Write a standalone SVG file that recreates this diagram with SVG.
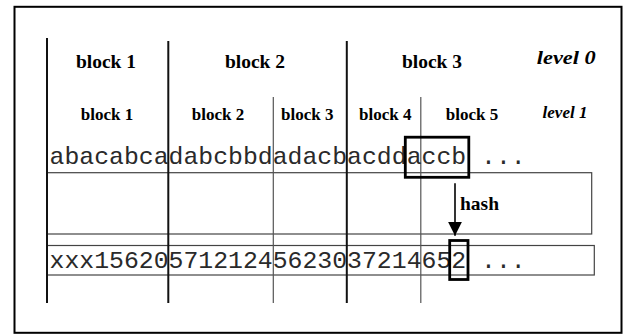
<svg xmlns="http://www.w3.org/2000/svg" width="623" height="335" viewBox="0 0 623 335">
<style>
.frame{fill:none;stroke:#000;stroke-width:2}
.thick{stroke:#111;stroke-width:2}
.thin{stroke:#555;stroke-width:1.2}
.row{fill:none;stroke:#444;stroke-width:1.2}
.hl{fill:none;stroke:#000;stroke-width:2.8}
.b0{font-family:"Liberation Serif",serif;font-weight:bold;font-size:19.5px;text-anchor:middle;fill:#000}
.b1{font-family:"Liberation Serif",serif;font-weight:bold;font-size:17px;text-anchor:middle;fill:#000}
.lv{font-family:"Liberation Serif",serif;font-weight:bold;font-style:italic;text-anchor:middle;fill:#000}
.mono{font-family:"Liberation Mono","Courier New",monospace;font-size:24.8px;fill:#2a2a2a}
</style>
<defs>
<marker id="ah" markerWidth="14" markerHeight="14" refX="14" refY="7" orient="auto" markerUnits="userSpaceOnUse">
<path d="M0,0 L14,7 L0,14 Z" fill="#000"/>
</marker>
</defs>
<rect class="frame" x="14.5" y="6.8" width="607" height="326"/>
<g id="rows">
<rect class="row" x="47" y="172.7" width="544.7" height="61.3"/>
<rect class="row" x="47" y="245.5" width="547.3" height="29.5"/>
</g>
<g id="dividers">
<line class="thick" x1="47" y1="38" x2="47" y2="303"/>
<line class="thick" x1="168.3" y1="41" x2="168.3" y2="303"/>
<line class="thin" x1="273.3" y1="97" x2="273.3" y2="303"/>
<line class="thick" x1="346.8" y1="41" x2="346.8" y2="303"/>
<line class="thin" x1="420.8" y1="97" x2="420.8" y2="303"/>
</g>
<g id="level0">
<text class="b0" x="106" y="67.5">block 1</text>
<text class="b0" x="255" y="67.5">block 2</text>
<text class="b0" x="432" y="67.5">block 3</text>
<text class="lv" x="566.3" y="64" font-size="19.5" textLength="59" lengthAdjust="spacingAndGlyphs">level 0</text>
</g>
<g id="level1">
<text class="b1" x="107" y="120">block 1</text>
<text class="b1" x="218" y="120">block 2</text>
<text class="b1" x="307.2" y="120">block 3</text>
<text class="b1" x="385.3" y="120">block 4</text>
<text class="b1" x="472" y="120">block 5</text>
<text class="lv" x="565" y="118.3" font-size="17">level 1</text>
</g>
<g id="strings">
<text class="mono" x="49.5" y="163.5">abacabcadabcbbdadacbacddaccb ...</text>
<text class="mono" x="49.5" y="268">xxx1562057121245623037214652 ...</text>
</g>
<g id="highlights">
<rect class="hl" x="405.3" y="137.2" width="63.5" height="40.1"/>
<rect class="hl" x="449.7" y="240.5" width="18.3" height="39"/>
</g>
<g id="connectors">
<line x1="455" y1="183.3" x2="455" y2="235.7" stroke="#000" stroke-width="1.6" marker-end="url(#ah)"/>
<text class="b0" x="479.5" y="210">hash</text>
</g>
</svg>
